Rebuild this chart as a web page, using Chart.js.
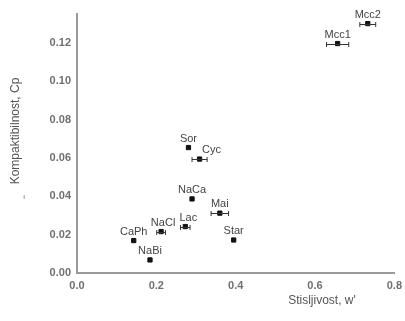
<!DOCTYPE html>
<html>
<head>
<meta charset="utf-8">
<script src="https://cdn.jsdelivr.net/npm/chart.js@4.4.0/dist/chart.umd.min.js"></script>
<style>
  html, body { margin: 0; padding: 0; background: #fff; }
  #wrap { width: 405px; height: 321px; }
</style>
</head>
<body>
<div id="wrap"><canvas id="chart"></canvas></div>
<script>
// Excipients: compressibility (x) vs compactibility (y)
const names = ["Mcc2", "Mcc1", "Sor", "Cyc", "NaCa", "Mai", "Star", "Lac", "NaCl", "CaPh", "NaBi"];
const stisljivost = [0.733, 0.657, 0.281, 0.309, 0.290, 0.360, 0.395, 0.273, 0.212, 0.143, 0.184];
const kompaktibilnost = [0.130, 0.1196, 0.0654, 0.0594, 0.0386, 0.0312, 0.0172, 0.0242, 0.0216, 0.0169, 0.0068];
const xError = [0.02, 0.028, 0, 0.019, 0, 0.022, 0, 0.012, 0.011, 0, 0];

const xTicks = [0.0, 0.2, 0.4, 0.6, 0.8];
const yTicks = [0.00, 0.02, 0.04, 0.06, 0.08, 0.10, 0.12];

const FONT = "'Liberation Sans', Arial, sans-serif";

// small nudges for labels that sit off-centre in the original
const labelNudge = { Cyc: 12, Lac: 3, NaCl: 2 };

const pts = stisljivost.map((x, i) => ({ x: x, y: kompaktibilnost[i] }));

// error bars + point labels + axis titles
const extras = {
    id: 'extras',
    afterDatasetsDraw(chart) {
        const c = chart.ctx;
        const xs = chart.scales.x, ys = chart.scales.y;
        c.save();
        // horizontal error bars
        c.strokeStyle = '#333';
        c.lineWidth = 1;
        pts.forEach((p, i) => {
            if (!xError[i]) return;
            const py = Math.round(ys.getPixelForValue(p.y)) + 0.5;
            const x1 = xs.getPixelForValue(p.x - xError[i]);
            const x2 = xs.getPixelForValue(p.x + xError[i]);
            c.beginPath();
            c.moveTo(x1, py); c.lineTo(x2, py);
            c.moveTo(x1, py - 2.5); c.lineTo(x1, py + 2.5);
            c.moveTo(x2, py - 2.5); c.lineTo(x2, py + 2.5);
            c.stroke();
        });
        // labels
        c.fillStyle = '#444';
        c.font = '11px ' + FONT;
        c.textAlign = 'center';
        c.textBaseline = 'alphabetic';
        pts.forEach((p, i) => {
            const px = xs.getPixelForValue(p.x) + (labelNudge[names[i]] || 0);
            const py = ys.getPixelForValue(p.y);
            c.fillText(names[i], px, py - 6);
        });
        // axis titles
        c.fillStyle = '#555';
        c.font = '12px ' + FONT;
        c.fillText("Stisljivost, w'", 322, 304);
        c.translate(19, 131);
        c.rotate(-Math.PI / 2);
        c.fillText('Kompaktibilnost, Cp', 0, 0);
        c.restore();
        c.save();
        c.fillStyle = '#777';
        c.font = '8px ' + FONT;
        c.fillText('ı', 23, 199);
        c.restore();
    }
};

new Chart(document.getElementById('chart'), {
    type: 'scatter',
    data: {
        datasets: [{
            data: pts,
            pointStyle: 'rect',
            pointRadius: 3,
            backgroundColor: '#111',
            borderColor: '#111',
            borderWidth: 1
        }]
    },
    options: {
        responsive: true,
        maintainAspectRatio: false,
        animation: false,
        layout: { padding: { top: 14, right: 7, left: 0, bottom: 0 } },
        plugins: { legend: { display: false }, tooltip: { enabled: false } },
        scales: {
            x: {
                min: 0, max: 0.8,
                afterBuildTicks: axis => { axis.ticks = xTicks.map(v => ({ value: v })); },
                afterFit: axis => { axis.height = 48; },
                grid: { display: false, drawTicks: true, tickLength: 3, tickColor: '#999' },
                border: { color: '#999', width: 2 },
                ticks: {
                    color: '#707070',
                    font: { family: FONT, size: 11, weight: 'bold' },
                    padding: 3,
                    maxRotation: 0,
                    callback: v => v.toFixed(1)
                }
            },
            y: {
                min: 0, max: 0.135,
                afterBuildTicks: axis => { axis.ticks = yTicks.map(v => ({ value: v })); },
                afterFit: axis => { axis.width = 77; },
                grid: { display: false, drawTicks: true, tickLength: 3, tickColor: '#999' },
                border: { color: '#999', width: 2 },
                ticks: {
                    color: '#707070',
                    font: { family: FONT, size: 11, weight: 'bold' },
                    padding: 3,
                    callback: v => v.toFixed(2)
                }
            }
        }
    },
    plugins: [extras]
});
</script>
</body>
</html>
